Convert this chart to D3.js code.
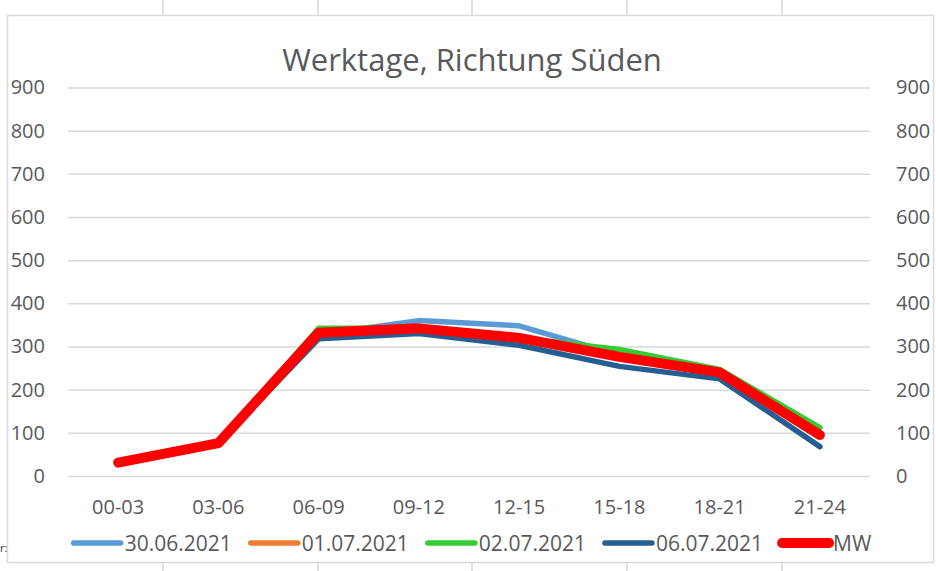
<!DOCTYPE html>
<html><head><meta charset="utf-8">
<script src="https://cdn.jsdelivr.net/npm/d3@7/dist/d3.min.js"></script>
<style>body{margin:0;background:#fff}svg{display:block}</style>
</head><body>
<svg id="c" width="936" height="571"></svg>
<script>
const categories = ["00-03","03-06","06-09","09-12","12-15","15-18","18-21","21-24"];
const s30062021 = [30, 75, 328, 360, 348, 280, 235, 100];
const s01072021 = [32, 77, 335, 343, 318, 275, 245, 95];
const s02072021 = [31, 76, 342, 342, 320, 293, 247, 112];
const s06072021 = [30, 75, 318, 330, 303, 254, 225, 68];
const sMW = [31, 76, 332, 342, 320, 276, 240, 95];
const seriesNames = ["30.06.2021","01.07.2021","02.07.2021","06.07.2021","MW"];
const seriesColors = ["#5B9BD5","#ED7D31","#33CC33","#255E91","#FF0000"];
const yTicks = [0,100,200,300,400,500,600,700,800,900];
const title = "Werktage, Richtung Süden";

const seriesData = [s30062021, s01072021, s02072021, s06072021, sMW];
const widths = [5.5,5.5,5.5,5.5,10];

const svg = d3.select("#c");
const font = "'Open Sans', sans-serif";
const txt = "#595959";

// spreadsheet background
svg.append("rect").attr("width",936).attr("height",571).attr("fill","#fff");
const cellX = [163,318,472,627,782];
cellX.forEach(x=>{
  svg.append("line").attr("x1",x).attr("x2",x).attr("y1",0).attr("y2",571).attr("stroke","#d4d4d4").attr("stroke-width",1.5);
});

// chart area
svg.append("rect").attr("x",7.5).attr("y",15.5).attr("width",926).attr("height",547)
  .attr("fill","#fff").attr("stroke","#d9d9d9").attr("stroke-width",1.5);
svg.append("text").attr("x",0).attr("y",552).text("r:").attr("font-family",font).attr("font-size",11).attr("fill","#333");

const x = d3.scaleBand().domain(categories).range([68,870]).padding(0);
const cx = c => x(c) + x.bandwidth()/2;
const y = d3.scaleLinear().domain([0,900]).range([476,87.5]);

// gridlines
svg.append("g").attr("transform","translate(68,0)")
  .call(d3.axisLeft(y).tickValues(yTicks).tickSize(-802).tickFormat(""))
  .call(g=>g.select(".domain").remove())
  .call(g=>g.selectAll("line").attr("stroke","#d9d9d9").attr("stroke-width",1.5));

// left axis labels
svg.append("g").attr("transform","translate(68,0)")
  .call(d3.axisLeft(y).tickValues(yTicks).tickSize(0).tickPadding(23))
  .call(g=>g.select(".domain").remove())
  .call(g=>g.selectAll("text").attr("font-family",font).attr("font-size",20).attr("fill",txt));
// right axis labels
svg.append("g").attr("transform","translate(870,0)")
  .call(d3.axisRight(y).tickValues(yTicks).tickSize(0).tickPadding(26))
  .call(g=>g.select(".domain").remove())
  .call(g=>g.selectAll("text").attr("font-family",font).attr("font-size",20).attr("fill",txt));
// x axis labels
svg.append("g").attr("transform","translate(0,476)")
  .call(d3.axisBottom(x).tickSize(0).tickPadding(24))
  .call(g=>g.select(".domain").remove())
  .call(g=>g.selectAll("text").attr("font-family",font).attr("font-size",20).attr("fill",txt));

// title
svg.append("text").attr("x",472).attr("y",71).attr("text-anchor","middle")
  .attr("font-family",font).attr("font-size",31).attr("fill",txt).text(title);

// lines
const line = d3.line().x((d,i)=>cx(categories[i])).y(d=>y(d));
seriesData.forEach((s,i)=>{
  svg.append("path").datum(s).attr("d",line).attr("fill","none")
    .attr("stroke",seriesColors[i]).attr("stroke-width",widths[i])
    .attr("stroke-linejoin","round").attr("stroke-linecap","round");
});

// legend
const lg = svg.append("g");
let pos = 0;
seriesNames.forEach((n,i)=>{
  const g = lg.append("g");
  g.append("line").attr("x1",pos+3).attr("x2",pos+50).attr("y1",0).attr("y2",0)
    .attr("stroke",seriesColors[i]).attr("stroke-width",widths[i]).attr("stroke-linecap","round");
  const t = g.append("text").attr("x",pos+54).attr("y",7.5).attr("font-family",font)
    .attr("font-size",21).attr("fill",txt).text(n);
  const w = t.node().getComputedTextLength();
  pos += 54 + w + 16;
});
const total = pos - 16;
lg.attr("transform",`translate(${471 - total/2},543)`);
</script>
</body></html>
